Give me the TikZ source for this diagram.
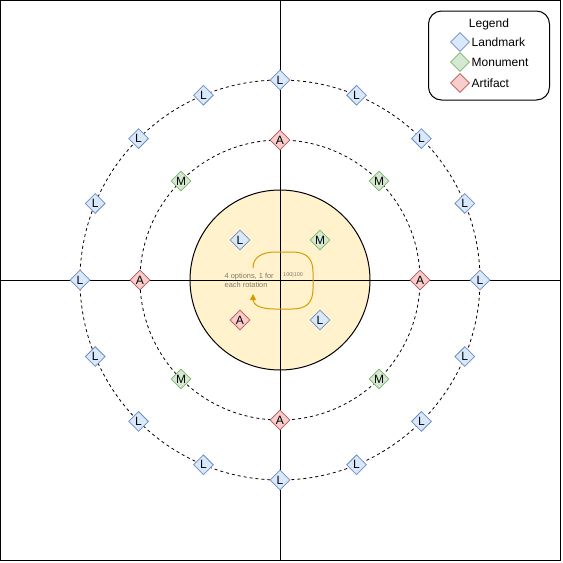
\documentclass[tikz,border=0pt]{standalone}
\usepackage{fontspec}
\setmainfont{Liberation Sans}
\usetikzlibrary{shapes.geometric,arrows.meta}
\definecolor{lblue}{HTML}{DAE8FC}
\definecolor{dblue}{HTML}{6C8EBF}
\definecolor{lgreen}{HTML}{D5E8D4}
\definecolor{dgreen}{HTML}{82B366}
\definecolor{lred}{HTML}{F8CECC}
\definecolor{dred}{HTML}{B85450}
\definecolor{lyellow}{HTML}{FFF2CC}
\definecolor{orng}{HTML}{D79B00}
\definecolor{txtgrey}{RGB}{128,121,102}
\tikzset{
  mk/.style={diamond, aspect=1, inner sep=0pt, minimum size=20pt, font=\fontsize{12}{12}\selectfont, line width=0.8pt},
  lm/.style={mk, fill=lblue, draw=dblue},
  mo/.style={mk, fill=lgreen, draw=dgreen},
  ar/.style={mk, fill=lred, draw=dred},
  ring/.style={draw, dash pattern=on 3pt off 3pt, line width=0.8pt},
  axis/.style={draw, line width=1pt},
  legtxt/.style={anchor=west, inner sep=0pt, font=\fontsize{12}{12}\selectfont},
}
\begin{document}
\begin{tikzpicture}[x=1pt,y=-1pt]
\useasboundingbox (0,0) rectangle (563,563);
\draw[line width=1pt] (0.5,0.5) rectangle (560,560);
\coordinate (c) at (280,280);
\draw[ring] (c) circle[radius=200pt];
\draw[ring] (c) circle[radius=140pt];
\draw[fill=lyellow, line width=1pt] (c) circle[radius=90pt];
\coordinate (top) at (280,0.5);
\coordinate (bot) at (280,560);
\coordinate (lft) at (0.5,280);
\coordinate (rgt) at (560,280);
\draw[axis] (top) -- (bot);
\draw[axis] (lft) -- (rgt);
% loop arrow
\coordinate (cs) at (253,268);
\coordinate (ce) at (253,294);
\draw[orng, line width=1pt, -{Triangle[length=6pt,width=6pt]}]
  (cs) .. controls (253,257) and (262,252) .. (276,252) -- (292,252)
  .. controls (306,252) and (313,258) .. (313,272) -- (313,289)
  .. controls (313,303) and (306,309) .. (292,309) -- (274,309)
  .. controls (261,309) and (253,305) .. (ce);
\node[text=txtgrey, font=\fontsize{7.4}{9}\selectfont, align=left, anchor=west, inner sep=0pt] (lbl) at (224.5,280.5) {4 options, 1 for\\each rotation};
\node[text=txtgrey, font=\fontsize{5.5}{6}\selectfont, anchor=west, inner sep=0pt] (pct) at (283,275) {100\textbar 100};
% outer ring
\foreach \i in {0,...,15} {
  \node[lm] (o\i) at ([shift={(\i*22.5:200pt)}]c) {L};
}
% middle ring
\foreach \i in {0,90,180,270} {
  \node[ar] (ma\i) at ([shift={(\i:140pt)}]c) {A};
}
\foreach \i in {45,135,225,315} {
  \node[mo] (mm\i) at ([shift={(\i:140pt)}]c) {M};
}
% inner
\node[lm] (i1) at (240,240) {L};
\node[mo] (i2) at (320,240) {M};
\node[ar] (i3) at (240,320) {A};
\node[lm] (i4) at (320,320) {L};
% legend
\node[draw, line width=1pt, rounded corners=13pt, minimum width=121pt, minimum height=89pt, inner sep=0pt] (leg) at (489,55.5) {};
\node[font=\fontsize{12}{12}\selectfont, inner sep=0pt] (legt) at (489,24) {Legend};
\node[lm, minimum size=19pt] (k1) at (460,42) {};
\node[mo, minimum size=19pt] (k2) at (460,62) {};
\node[ar, minimum size=19pt] (k3) at (460,83) {};
\node[legtxt] (t1) at (471.5,42) {Landmark};
\node[legtxt] (t2) at (471.5,62) {Monument};
\node[legtxt] (t3) at (471.5,83) {Artifact};
\end{tikzpicture}
\end{document}
